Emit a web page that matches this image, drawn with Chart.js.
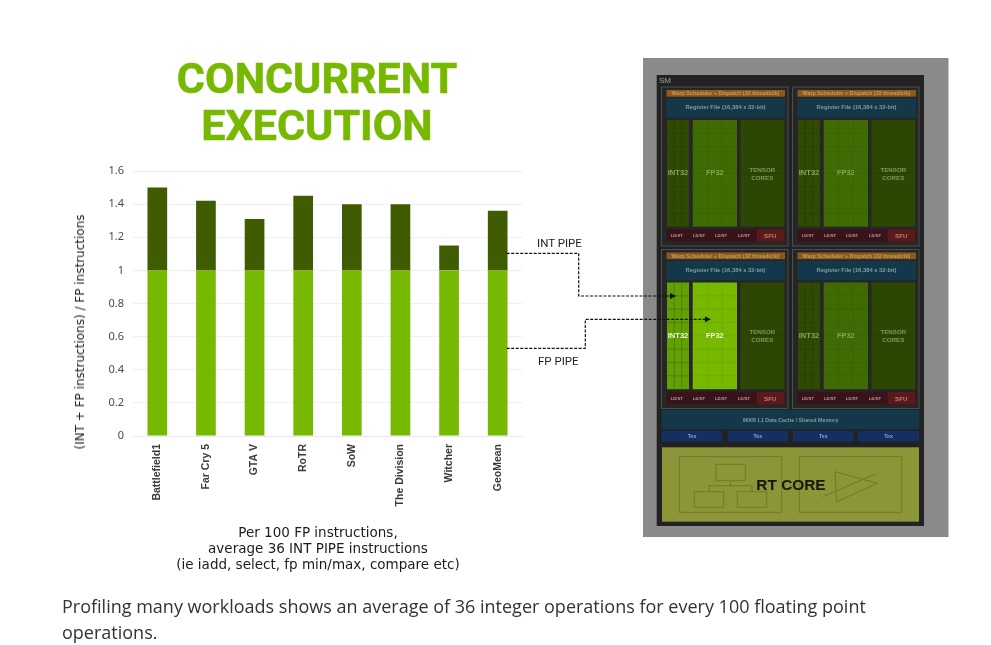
<!DOCTYPE html>
<html>
<head>
<meta charset="utf-8">
<script src="https://cdn.jsdelivr.net/npm/chart.js@4"></script>
<style>
  html, body { margin: 0; padding: 0; background: #fff; }
  #page { position: relative; width: 991px; height: 645px; overflow: hidden; }
  #page canvas { position: absolute; left: 0; top: 0; }
  #die, #arrows { position: absolute; left: 0; top: 0; }
  #die { filter: blur(0.45px); }
  .txt { position: absolute; white-space: nowrap; }
  .heading { left: 117px; width: 400px; text-align: center; font: 700 43px/43px Roboto, sans-serif; color: #76b900; -webkit-text-stroke: 0.6px #76b900; }
  #ytitle { left: 80px; top: 332px; font: 12px "DejaVu Sans", sans-serif; color: #222; transform: translate(-50%, -50%) rotate(-90deg); }
  #note { left: 118px; top: 524px; width: 400px; text-align: center; font: 13.5px/16px "DejaVu Sans", sans-serif; color: #1c1c1c; }
  #caption { left: 62px; top: 593px; width: 830px; white-space: normal; font: 18px/26px "Open Sans", sans-serif; color: #333; }
  .pipe { font: 400 11.5px Roboto, sans-serif; color: #222; }
</style>
</head>
<body>
<div id="page">
  <canvas id="chart-1" width="991" height="645"></canvas>
  <div class="txt heading" style="top:56.5px">CONCURRENT</div>
  <div class="txt heading" style="top:104px">EXECUTION</div>
  <div class="txt" id="ytitle">(INT + FP instructions) / FP instructions</div>
  <div class="txt" id="note">Per 100 FP instructions,<br>average 36 INT PIPE instructions<br>(ie iadd, select, fp min/max, compare etc)</div>
  <div class="txt" id="caption">Profiling many workloads shows an average of 36 integer operations for every 100 floating point operations.</div>
  <div class="txt pipe" style="left:537px;top:236px">INT PIPE</div>
  <div class="txt pipe" style="left:538px;top:354px">FP PIPE</div>
  <svg id="die" width="991" height="645"></svg>
  <svg id="arrows" width="991" height="645"></svg>
</div>
<script>
const games = ['Battlefield1', 'Far Cry 5', 'GTA V', 'RoTR', 'SoW', 'The Division', 'Witcher', 'GeoMean'];
const fpPipe = [1, 1, 1, 1, 1, 1, 1, 1];
const intPipe = [0.5, 0.42, 0.31, 0.45, 0.4, 0.4, 0.15, 0.36];
const yTicks = ['0', '0.2', '0.4', '0.6', '0.8', '1', '1.2', '1.4', '1.6'];

const ctx = document.getElementById('chart-1');

new Chart(ctx, {
  type: 'bar',
  data: {
    labels: games,
    datasets: [{
      label: 'FP PIPE',
      data: fpPipe,
      backgroundColor: '#76b900',
      categoryPercentage: 1,
      barPercentage: 0.405
    }, {
      label: 'INT PIPE',
      data: intPipe,
      backgroundColor: '#3f5c00',
      categoryPercentage: 1,
      barPercentage: 0.405
    }]
  },
  options: {
    responsive: false,
    animation: false,
    layout: { autoPadding: false, padding: { left: 0, top: 171, right: 469, bottom: 0 } },
    plugins: { legend: { display: false }, tooltip: { enabled: false } },
    scales: {
      x: {
        stacked: true,
        afterFit: function (scale) { scale.height = 209; },
        grid: { display: false },
        border: { color: '#e6e8e8' },
        ticks: {
          minRotation: 90,
          maxRotation: 90,
          autoSkip: false,
          padding: 0,
          color: '#3a3a3a',
          font: { family: 'Liberation Sans', size: 10.5, weight: 'bold' }
        }
      },
      y: {
        stacked: true,
        min: 0,
        max: 1.6,
        afterFit: function (scale) { scale.width = 133; },
        grid: { color: '#eef0f0', drawTicks: false },
        border: { display: false },
        ticks: {
          stepSize: 0.2,
          padding: 9,
          color: '#4a4a4a',
          font: { family: 'Noto Sans', size: 11 },
          callback: function (value, i) { return yTicks[i]; }
        }
      }
    }
  }
});

// die diagram on the right
const die = document.getElementById('die');
const NS = 'http://www.w3.org/2000/svg';

function rect(x, y, w, h, fill, stroke) {
  const r = document.createElementNS(NS, 'rect');
  r.setAttribute('x', x); r.setAttribute('y', y);
  r.setAttribute('width', w); r.setAttribute('height', h);
  r.setAttribute('fill', fill);
  if (stroke) r.setAttribute('stroke', stroke);
  die.appendChild(r);
}

function line(x1, y1, x2, y2, stroke, op) {
  const l = document.createElementNS(NS, 'line');
  l.setAttribute('x1', x1); l.setAttribute('y1', y1);
  l.setAttribute('x2', x2); l.setAttribute('y2', y2);
  l.setAttribute('stroke', stroke);
  if (op) l.setAttribute('stroke-opacity', op);
  die.appendChild(l);
}

function text(x, y, s, size, fill, weight, family) {
  const t = document.createElementNS(NS, 'text');
  t.setAttribute('x', x); t.setAttribute('y', y);
  t.setAttribute('text-anchor', 'middle');
  t.setAttribute('dominant-baseline', 'central');
  t.setAttribute('font-family', family || 'Liberation Sans');
  t.setAttribute('font-size', size);
  t.setAttribute('font-weight', weight || 'bold');
  t.setAttribute('fill', fill);
  t.textContent = s;
  die.appendChild(t);
}

function cell(x, y, w, h, fill, nx, ny, gridColor, op) {
  rect(x, y, w, h, fill);
  for (let i = 1; i < nx; i++) line(x + w * i / nx, y, x + w * i / nx, y + h, gridColor, op);
  for (let j = 1; j < ny; j++) line(x, y + h * j / ny, x + w, y + h * j / ny, gridColor, op);
}

function cluster(dx, dy, lit) {
  rect(661.5 + dx, 87 + dy, 126.5, 159, '#262626', '#4b4f52');
  rect(666.5 + dx, 90 + dy, 118.5, 6.7, '#8a5a1e');
  text(725.5 + dx, 93.4 + dy, 'Warp Scheduler + Dispatch (32 thread/clk)', 5.4, '#c79a5c');
  rect(666.5 + dx, 98.3 + dy, 118.5, 19.4, '#14384a');
  text(725.5 + dx, 107 + dy, 'Register File (16,384 x 32-bit)', 5.8, '#7f9ca6');
  cell(667 + dx, 120 + dy, 22, 106.7, lit ? '#62a005' : '#2f4a05', 3, 8, lit ? '#3f6a00' : '#1f3300', lit ? 0.5 : 0.3);
  cell(692.7 + dx, 120 + dy, 44.3, 106.7, lit ? '#76b900' : '#3f6a04', 3, 8, lit ? '#5c9400' : '#355903', 0.3);
  cell(740.3 + dx, 120 + dy, 44, 106.7, '#2c4704', 1, 2, '#243b03', 0.5);
  text(678 + dx, 172.7 + dy, 'INT32', 7.6, lit ? '#f0f8d8' : '#8aa562');
  text(714.8 + dx, 172.7 + dy, 'FP32', 7.4, lit ? '#f0f8d8' : '#86a84c');
  text(762.3 + dx, 169 + dy, 'TENSOR', 6.2, '#7c9660');
  text(762.3 + dx, 177 + dy, 'CORES', 6.2, '#7c9660');
  rect(666.5 + dx, 229.3 + dy, 118.5, 12.4, '#38141a');
  rect(756.7 + dx, 229.3 + dy, 27.5, 12.4, '#5a1a1c');
  [676.7, 699, 721, 744].forEach(function (cx) {
    text(cx + dx, 235.5 + dy, 'LD/ST', 4.2, '#b89a9a');
  });
  text(770.3 + dx, 235.5 + dy, 'SFU', 6.2, '#b87f75');
}

rect(643, 58, 305.5, 479, '#8a8a8a');
rect(656.7, 75, 267.3, 451, '#222222');
text(665, 80, 'SM', 8, '#a0a0a0', 'normal');

cluster(0, 0, false);
cluster(131, 0, false);
cluster(0, 162.5, true);
cluster(131, 162.5, false);

rect(661.7, 410, 257.6, 19.3, '#13384a');
text(790.5, 419.7, '96KB L1 Data Cache / Shared Memory', 5.3, '#7f9ca6');
[[662, 60], [727.7, 60.3], [793, 60.7], [858, 61]].forEach(function (b) {
  rect(b[0], 431, b[1], 10.7, '#143060');
  text(b[0] + b[1] / 2, 436.3, 'Tex', 5.2, '#8aa2bd');
});

rect(662, 447.3, 257, 74.4, '#8c9638');
const outline = '#6e7829';
rect(679.3, 456.7, 102.4, 55.6, 'none', outline);
rect(799.3, 456.7, 102.4, 55.6, 'none', outline);
rect(716, 464.3, 29.3, 16.4, 'none', outline);
rect(694.3, 491.7, 29.4, 15.6, 'none', outline);
rect(737.3, 491.7, 29.4, 15.6, 'none', outline);
line(730.5, 480.7, 730.5, 485.7, outline);
line(709, 485.7, 752, 485.7, outline);
line(709, 485.7, 709, 491.7, outline);
line(752, 485.7, 752, 491.7, outline);
line(835, 471.7, 836.7, 501.7, outline);
line(835, 471.7, 877.3, 483.3, outline);
line(836.7, 501.7, 877.3, 483.3, outline);
line(823, 496.7, 875, 474.3, outline);
text(791, 484, 'RT CORE', 15.4, '#16160a', 'bold');

// dashed connectors from the bars into the die
const arrows = document.getElementById('arrows');
arrows.innerHTML =
  '<defs><marker id="head" markerUnits="userSpaceOnUse" markerWidth="7" markerHeight="7" refX="6" refY="3" orient="auto">' +
  '<path d="M0 0 L6 3 L0 6 z" fill="#111"/></marker></defs>' +
  '<polyline points="506.7,253.3 578.7,253.3 578.7,296 676,296" fill="none" stroke="#111" stroke-width="1.2" stroke-dasharray="3 1.5" marker-end="url(#head)"/>' +
  '<polyline points="506.7,348.3 585.3,348.3 585.3,319.3 710.7,319.3" fill="none" stroke="#111" stroke-width="1.2" stroke-dasharray="3 1.5" marker-end="url(#head)"/>';
</script>
</body>
</html>
